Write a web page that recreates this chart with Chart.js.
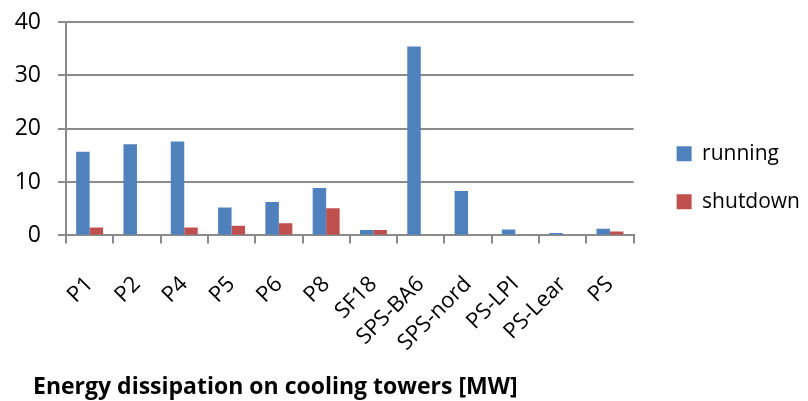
<!DOCTYPE html>
<html>
<head>
<meta charset="utf-8">
<script src="https://cdn.jsdelivr.net/npm/chart.js@4.4.1/dist/chart.umd.min.js"></script>
<style>
  html, body { margin: 0; padding: 0; background: #ffffff; }
  #wrap { width: 808px; height: 401px; }
</style>
</head>
<body>
<div id="wrap"><canvas id="c" width="808" height="401"></canvas></div>
<script>
// Cooling tower sites
const sites = ['P1', 'P2', 'P4', 'P5', 'P6', 'P8', 'SF18', 'SPS-BA6', 'SPS-nord', 'PS-LPI', 'PS-Lear', 'PS'];
// Dissipated power in MW
const running  = [15.7, 17.1, 17.6, 5.25, 6.25, 8.9, 1.0, 35.4, 8.3, 1.1, 0.45, 1.25];
const shutdown = [1.5, 0, 1.5, 1.8, 2.3, 5.1, 1.0, 0, 0, 0, 0, 0.75];
const yTicks = [0, 10, 20, 30, 40];

const FONT = '"Open Sans", "Liberation Sans", sans-serif';
const GRID = '#8a8a8a';
const RIGHT_PAD = 14;
const LEGEND_SHIFT = 16;

// Bottom title gets a fixed left indent; the legend sits beside the plot,
// centred on the plot plus its category labels.
const placeBlocks = {
  id: 'placeBlocks',
  afterLayout(chart) {
    const t = chart.titleBlock;
    if (t) { t.left = 33; t.right = chart.width; }
    const lg = chart.legend;
    const x = chart.scales.x;
    if (lg && x) {
      lg.left += LEGEND_SHIFT;
      lg.right += LEGEND_SHIFT;
      lg.top = chart.chartArea.top;
      lg.bottom = x.bottom - 27;
    }
  }
};

new Chart(document.getElementById('c'), {
  type: 'bar',
  data: {
    labels: sites,
    datasets: [
      { label: 'running',  data: running,  backgroundColor: '#4f81bd', borderWidth: 0 },
      { label: 'shutdown', data: shutdown, backgroundColor: '#c0504d', borderWidth: 0 }
    ]
  },
  plugins: [placeBlocks],
  options: {
    responsive: false,
    animation: false,
    layout: { padding: { top: 22, left: 14, right: RIGHT_PAD, bottom: 0 } },
    datasets: { bar: { categoryPercentage: 0.57, barPercentage: 1.0 } },
    plugins: {
      tooltip: { enabled: false },
      legend: {
        position: 'right',
        align: 'center',
        labels: {
          color: '#000000',
          font: { family: FONT, size: 21 },
          boxWidth: 15,
          boxHeight: 15,
          padding: 27
        }
      },
      title: {
        display: true,
        position: 'bottom',
        align: 'start',
        text: 'Energy dissipation on cooling towers [MW]',
        color: '#000000',
        font: { family: FONT, size: 23, weight: 'bold' },
        padding: { top: 13, bottom: 0 }
      }
    },
    scales: {
      x: {
        offset: true,
        afterFit(scale) {
          scale.height = 125;
          scale.paddingLeft = 0;
          scale.paddingRight = 0;
        },
        grid: {
          offset: true,
          drawOnChartArea: false,
          drawTicks: true,
          tickLength: 8,
          color: GRID,
          lineWidth: 2
        },
        border: { display: true, color: GRID, width: 2 },
        ticks: {
          color: '#000000',
          font: { family: FONT, size: 22 },
          maxRotation: 45,
          minRotation: 45,
          autoSkip: false,
          labelOffset: 0,
          padding: 28
        }
      },
      y: {
        min: 0,
        max: 40,
        afterBuildTicks(axis) { axis.ticks = yTicks.map(v => ({ value: v })); },
        afterFit(scale) {
          scale.width = 52;
          scale.paddingTop = 0;
          scale.paddingBottom = 0;
        },
        grid: {
          color: GRID,
          lineWidth: 2,
          drawTicks: true,
          tickLength: 8
        },
        border: { display: true, color: GRID, width: 2 },
        ticks: {
          color: '#000000',
          font: { family: FONT, size: 23 },
          padding: 17
        }
      }
    }
  }
});
</script>
</body>
</html>
